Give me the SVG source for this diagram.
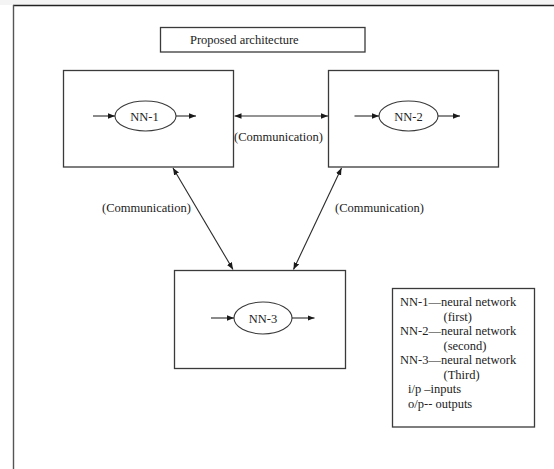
<svg xmlns="http://www.w3.org/2000/svg" width="554" height="469" viewBox="0 0 554 469">
<defs>
<style>
.box{fill:#fff;stroke:#3a3a3a;stroke-width:1.3}
.ell{fill:#fff;stroke:#3a3a3a;stroke-width:1.1}
.ln{stroke:#2a2a2a;stroke-width:1.1;fill:none}
text{font-family:"Liberation Serif","Times New Roman",serif;font-size:12.5px;fill:#222}
</style>
<marker id="ah" viewBox="0 0 10 10" refX="10" refY="5" markerWidth="7" markerHeight="7" markerUnits="userSpaceOnUse" orient="auto-start-reverse">
<path d="M0,1 L10,5 L0,9 z" fill="#1a1a1a"/>
</marker>
</defs>
<rect width="554" height="469" fill="#fff"/>
<rect width="554" height="5" fill="#f4f4f4"/>
<g id="frame">
<line x1="13" y1="5.5" x2="554" y2="5.5" stroke="#222" stroke-width="1.3"/>
<line x1="13.5" y1="5" x2="13.5" y2="469" stroke="#555" stroke-width="1.4"/>
</g>
<g id="title">
<rect class="box" x="160.5" y="27.5" width="204.5" height="24.5"/>
<text x="190" y="43.5">Proposed architecture</text>
</g>
<g id="nn1">
<rect class="box" x="63.5" y="70.5" width="170" height="96.5"/>
<ellipse class="ell" cx="145.5" cy="116" rx="30.5" ry="15"/>
<text x="144.5" y="120.5" text-anchor="middle">NN-1</text>
<line class="ln" x1="93" y1="116" x2="115" y2="116" marker-end="url(#ah)"/>
<line class="ln" x1="176" y1="116" x2="196" y2="116" marker-end="url(#ah)"/>
</g>
<g id="nn2">
<rect class="box" x="328.5" y="70.5" width="170" height="96.5"/>
<ellipse class="ell" cx="408.5" cy="116" rx="29.5" ry="15"/>
<text x="408.5" y="120.5" text-anchor="middle">NN-2</text>
<line class="ln" x1="354.5" y1="116" x2="379" y2="116" marker-end="url(#ah)"/>
<line class="ln" x1="438" y1="116" x2="460" y2="116" marker-end="url(#ah)"/>
</g>
<g id="nn3">
<rect class="box" x="174.5" y="270.5" width="171" height="98"/>
<ellipse class="ell" cx="263" cy="318" rx="29" ry="16"/>
<text x="263" y="322.5" text-anchor="middle">NN-3</text>
<line class="ln" x1="211" y1="318" x2="234" y2="318" marker-end="url(#ah)"/>
<line class="ln" x1="292" y1="318" x2="314.5" y2="318" marker-end="url(#ah)"/>
</g>
<g id="legend">
<rect class="box" x="392.5" y="288.5" width="142" height="138.5"/>
<text x="400" y="306">NN-1—neural network</text>
<text x="443.5" y="320.5">(first)</text>
<text x="400" y="335">NN-2—neural network</text>
<text x="443.5" y="349.5">(second)</text>
<text x="400" y="364">NN-3—neural network</text>
<text x="443.5" y="378.5">(Third)</text>
<text x="408" y="393">i/p –inputs</text>
<text x="408" y="407.5">o/p-- outputs</text>
</g>
<g id="connectors">
<line class="ln" x1="234.5" y1="116" x2="328" y2="116" marker-start="url(#ah)" marker-end="url(#ah)"/>
<line class="ln" x1="173" y1="168" x2="233" y2="269.5" marker-start="url(#ah)" marker-end="url(#ah)"/>
<line class="ln" x1="341.5" y1="168" x2="293.5" y2="269.5" marker-start="url(#ah)" marker-end="url(#ah)"/>
<text x="234" y="140.5">(Communication)</text>
<text x="102" y="211.5">(Communication)</text>
<text x="335" y="211.5">(Communication)</text>
</g>
</svg>
